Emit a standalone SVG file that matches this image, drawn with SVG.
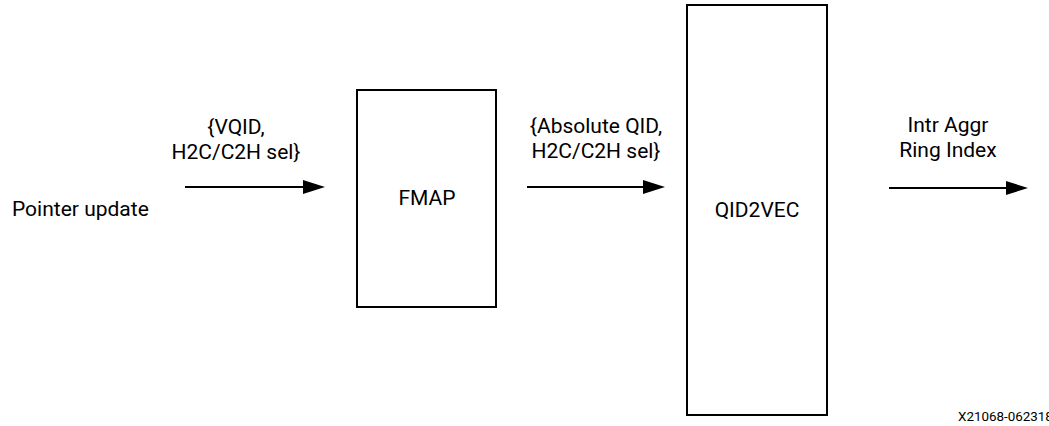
<svg xmlns="http://www.w3.org/2000/svg" width="1049" height="426" viewBox="0 0 1049 426">
<style>
text{font-family:Roboto,"Liberation Sans",sans-serif;font-size:21px;fill:#000}
.box{fill:#fff;stroke:#000;stroke-width:2}
.line{stroke:#000;stroke-width:2;fill:none}
.mid{text-anchor:middle}
.small{font-size:13.4px}
</style>
<rect width="1049" height="426" fill="#fff"/>
<g id="connectors">
<line class="line" x1="185" y1="187" x2="310" y2="187"/>
<path d="M303,180 L325,187 L303,194 Z" fill="#000"/>
<line class="line" x1="527" y1="187" x2="650" y2="187"/>
<path d="M643,180 L665,187 L643,194 Z" fill="#000"/>
<line class="line" x1="889" y1="188" x2="1013" y2="188"/>
<path d="M1006,181 L1028,188 L1006,195 Z" fill="#000"/>
</g>
<g id="label-input">
<text x="12" y="216">Pointer update</text>
</g>
<g id="label-vqid">
<text class="mid" x="236" y="134">{VQID,</text>
<text class="mid" x="236" y="159">H2C/C2H sel}</text>
</g>
<g id="fmap">
<rect class="box" x="357" y="90" width="139" height="217"/>
<text class="mid" x="427" y="205">FMAP</text>
</g>
<g id="label-absqid">
<text class="mid" x="596" y="133">{Absolute QID,</text>
<text class="mid" x="596" y="158">H2C/C2H sel}</text>
</g>
<g id="qid2vec">
<rect class="box" x="687" y="5" width="140" height="410"/>
<text class="mid" x="757" y="217">QID2VEC</text>
</g>
<g id="label-output">
<text class="mid" x="948" y="132">Intr Aggr</text>
<text class="mid" x="948" y="157">Ring Index</text>
</g>
<g id="figure-id">
<text class="small" x="958" y="421">X21068-062318</text>
</g>
</svg>
